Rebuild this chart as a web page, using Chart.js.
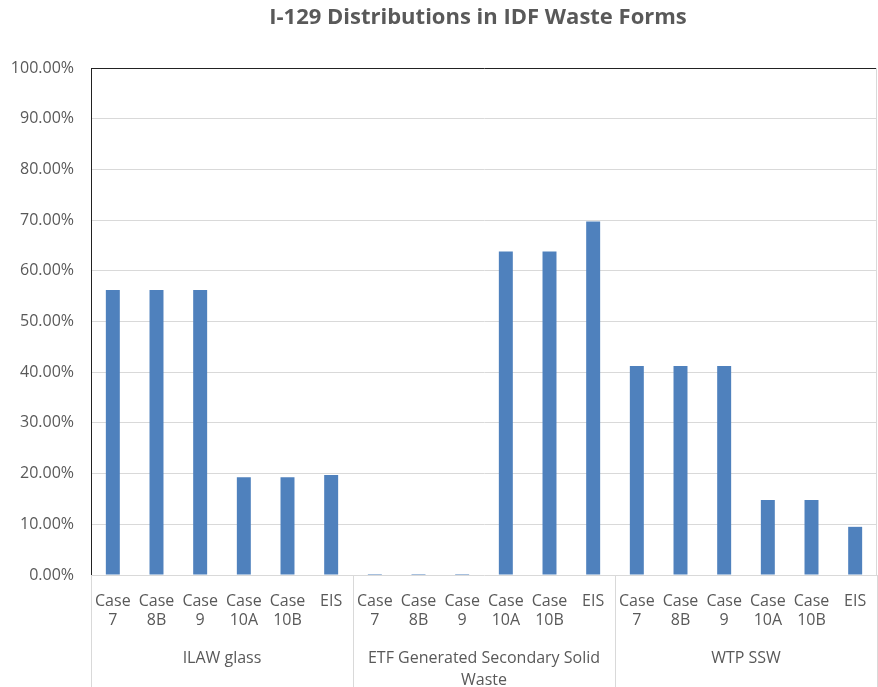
<!DOCTYPE html>
<html>
<head>
<meta charset="utf-8">
<script src="https://cdn.jsdelivr.net/npm/chart.js@4/dist/chart.umd.min.js"></script>
<style>
  html, body { margin: 0; padding: 0; background: #fff; }
  #wrap { width: 878px; height: 687px; }
</style>
</head>
<body>
<div id="wrap"><canvas id="chart"></canvas></div>
<script>
const groups = ["ILAW glass", ["ETF Generated Secondary Solid", "Waste"], "WTP SSW"];
const cases = [["Case", "7"], ["Case", "8B"], ["Case", "9"], ["Case", "10A"], ["Case", "10B"], "EIS"];
const ilawGlass = [0.562, 0.562, 0.562, 0.193, 0.193, 0.197];
const etfSecondary = [0.001, 0.001, 0.001, 0.638, 0.638, 0.697];
const wtpSsw = [0.412, 0.412, 0.412, 0.148, 0.148, 0.095];

const textColor = "#595959";
const fontFamily = "'Open Sans', sans-serif";

var labels = [];
groups.forEach(function () {
  cases.forEach(function (c) { labels.push(c); });
});
var values = ilawGlass.concat(etfSecondary, wtpSsw);

// title + group labels and separators under the axis
const groupAxis = {
  id: "groupAxis",
  afterDraw: function (chart) {
    var ctx = chart.ctx;
    var area = chart.chartArea;
    var x = chart.scales.x;
    var n = cases.length;
    var bounds = [area.left];
    for (var g = 1; g < groups.length; g++) {
      var i = g * n;
      bounds.push((x.getPixelForValue(i - 1) + x.getPixelForValue(i)) / 2);
    }
    bounds.push(area.right);

    ctx.save();
    ctx.strokeStyle = "#d9d9d9";
    ctx.lineWidth = 1;
    bounds.forEach(function (b) {
      var px = Math.round(b) + 0.5;
      ctx.beginPath();
      ctx.moveTo(px, area.bottom);
      ctx.lineTo(px, chart.height);
      ctx.stroke();
    });
    // right border of plot
    ctx.beginPath();
    ctx.moveTo(Math.round(area.right) - 0.5, area.top);
    ctx.lineTo(Math.round(area.right) - 0.5, area.bottom);
    ctx.stroke();

    ctx.fillStyle = textColor;
    ctx.font = "16px " + fontFamily;
    ctx.textAlign = "center";
    ctx.textBaseline = "middle";
    groups.forEach(function (g, k) {
      var cx = (bounds[k] + bounds[k + 1]) / 2;
      var lines = Array.isArray(g) ? g : [g];
      lines.forEach(function (line, j) {
        ctx.fillText(line, cx, area.bottom + 83 + j * 22);
      });
    });

    ctx.font = "bold 22px " + fontFamily;
    ctx.fillText("I-129 Distributions in IDF Waste Forms", (area.left + area.right) / 2 - 6, 18);
    ctx.restore();
  }
};

new Chart(document.getElementById("chart"), {
  type: "bar",
  data: {
    labels: labels,
    datasets: [
      {
        label: "I-129",
        data: values,
        backgroundColor: "#4f81bd",
        borderWidth: 0,
        categoryPercentage: 1,
        barPercentage: 0.32,
        minBarLength: 1,
      },
    ],
  },
  options: {
    responsive: true,
    maintainAspectRatio: false,
    animation: false,
    layout: { padding: { top: 68, right: 1, bottom: 0, left: 0 } },
    plugins: {
      legend: { display: false },
      tooltip: { enabled: false },
    },
    scales: {
      x: {
        grid: { display: false },
        border: { display: false },
        afterFit: function (s) { s.height = 112; },
        ticks: {
          color: textColor,
          font: { family: fontFamily, size: 16 },
          maxRotation: 0,
          autoSkip: false,
          padding: 9,
        },
      },
      y: {
        min: 0,
        max: 1,
        afterFit: function (s) { s.width = 91; },
        ticks: {
          stepSize: 0.1,
          color: textColor,
          font: { family: fontFamily, size: 16 },
          padding: 17,
          callback: function (v) { return (v * 100).toFixed(2) + "%"; },
        },
        grid: {
          drawTicks: false,
          color: function (c) { return c.tick && c.tick.value === 1 ? "#222" : "#d9d9d9"; },
        },
        border: { color: "#222" },
      },
    },
  },
  plugins: [groupAxis],
});
</script>
</body>
</html>
